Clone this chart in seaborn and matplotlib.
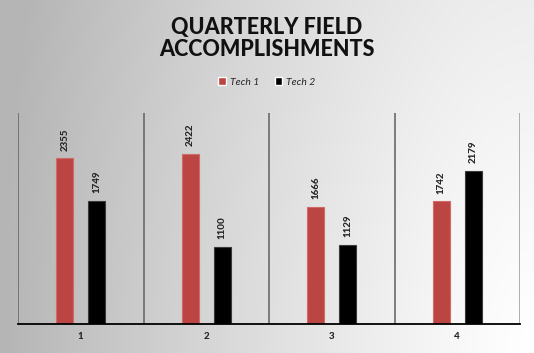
import numpy as np
import pandas as pd
import matplotlib.pyplot as plt
import seaborn as sns

# chart values
quarters = ["1", "2", "3", "4"]
tech1 = [2355, 2422, 1666, 1742]
tech2 = [1749, 1100, 1129, 2179]
series_names = ["Tech 1", "Tech 2"]

sns.set_theme(style="white")
plt.rcParams['font.family'] = ['Lato', 'DejaVu Sans']

df = pd.DataFrame({
    "Quarter": quarters * 2,
    "Count": tech1 + tech2,
    "Tech": [series_names[0]] * 4 + [series_names[1]] * 4,
})

fig = plt.figure(figsize=(5.34, 3.53), dpi=100)

# grey-to-white background gradient
bg = fig.add_axes([0, 0, 1, 1], zorder=-10)
xx, yy = np.meshgrid(np.linspace(0, 1, 534), np.linspace(0, 1, 353))
t = np.sqrt((1 - xx) ** 2 + (0.3 * (1 - yy)) ** 2)
t = np.clip(t, 0, 1) ** 1.2
shade = (255 - 74 * t) / 255
bg.imshow(np.dstack([shade] * 3), aspect='auto', origin='upper', extent=[0, 1, 1, 0])
bg.axis('off')

ax = fig.add_axes([18 / 534, 1 - 324 / 353, 502 / 534, 211 / 353])
ax.set_facecolor('none')

sns.barplot(data=df, x="Quarter", y="Count", hue="Tech",
            palette=["#BB4542", "#000000"], saturation=1,
            width=0.512, gap=0.47, ax=ax)

edge_cols = ["#cf6a66", "#3a3a3a"]
for c, ec in zip(ax.containers, edge_cols):
    for bar in c:
        bar.set_edgecolor(ec)
        bar.set_linewidth(0.8)
    ax.bar_label(c, fmt='%d', rotation=90, padding=5.5,
                 fontsize=7, fontweight='black')

ax.set_ylim(0, 3000)
ax.set_xlim(-0.5, 3.5)

# vertical separators between quarters
for i, xpos in enumerate([-0.5, 0.5, 1.5, 2.5, 3.5]):
    ax.axvline(xpos, color="#a0a0a0" if i == 4 else "#6a6a6a", lw=1.2)

for s in ['top', 'right', 'left']:
    ax.spines[s].set_visible(False)
ax.spines['bottom'].set_color('black')
ax.spines['bottom'].set_linewidth(1.3)

ax.set_yticks([])
ax.set_xlabel('')
ax.set_ylabel('')
ax.tick_params(axis='x', length=0, pad=6, labelsize=7)
for lab in ax.get_xticklabels():
    lab.set_fontweight('black')

handles, labels = ax.get_legend_handles_labels()
ax.legend(handles, labels, loc='center', bbox_to_anchor=(0.5, 1 - 82 / 353),
          bbox_transform=fig.transFigure, ncol=2, frameon=False,
          prop={'style': 'italic', 'size': 7.5}, handlelength=0.7,
          handleheight=0.7, handletextpad=0.4, columnspacing=1.5)

fig.text(0.5, 1 - 17 / 353, "QUARTERLY FIELD\nACCOMPLISHMENTS", ha='center', va='top',
         fontsize=15.5, fontweight='black', linespacing=1.05, color='#111111')

fig.savefig('out.png', dpi=100)
